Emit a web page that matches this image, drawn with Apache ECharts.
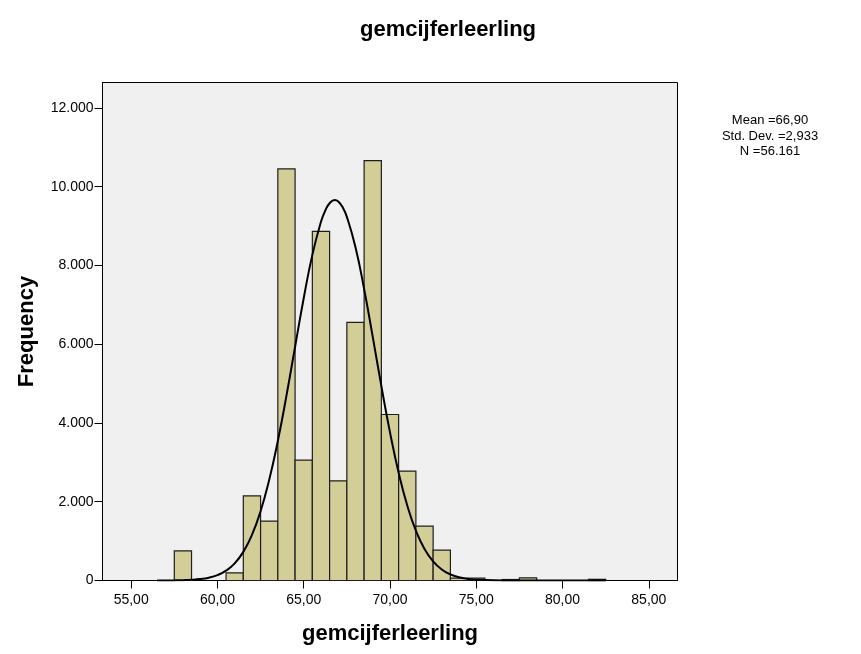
<!DOCTYPE html>
<html>
<head>
<meta charset="utf-8">
<script src="https://cdn.jsdelivr.net/npm/echarts@6/dist/echarts.min.js"></script>
<style>
html,body{margin:0;padding:0;background:#fff;}
#chart{width:861px;height:654px;}
</style>
</head>
<body>
<div id="chart"></div>
<script>
// Histogram bins (bin centers, width 1) and frequencies
var binCenters = [58, 61, 62, 63, 64, 65, 66, 67, 68, 69, 70, 71, 72, 73, 74, 75, 77, 78, 82];
var binCounts  = [750, 195, 2150, 1510, 10450, 3055, 8865, 2530, 6555, 10660, 4215, 2775, 1380, 770, 60, 60, 25, 65, 30];

// Normal curve as drawn in the picture (sampled points)
var curveX = [56.5, 57, 57.5, 58, 58.5, 59, 59.5, 60, 60.5, 61, 61.5, 62, 62.5, 63, 63.5, 64, 64.5, 65, 65.5, 66, 66.25, 66.5, 66.8, 67, 67.25, 67.5, 68, 68.5, 69, 69.5, 70, 70.5, 71, 71.5, 72, 72.5, 73, 73.5, 74, 74.5, 75, 76, 77, 78, 80, 82.5];
var curveY = [0, 1, 3, 8, 17, 36, 71, 137, 250, 436, 727, 1157, 1760, 2555, 3543, 4693, 5935, 7168, 8268, 9107, 9394, 9580, 9660, 9624, 9481, 9234, 8460, 7403, 6186, 4936, 3762, 2738, 1903, 1264, 801, 485, 280, 155, 82, 41, 20, 4, 1, 0, 0, 0];

// Tick labels
var xTicks = [55, 60, 65, 70, 75, 80, 85];
var yTicks = [0, 2000, 4000, 6000, 8000, 10000, 12000];

var titleText = 'gemcijferleerling';
var xName = 'gemcijferleerling';
var yName = 'Frequency';
var statsLines = ['Mean =66,90', 'Std. Dev. =2,933', 'N =56.161'];

var FONT = '"Liberation Sans", Arial, Helvetica, sans-serif';

var barData = binCenters.map(function (c, i) { return [c, binCounts[i]]; });
var curveData = curveX.map(function (x, i) { return [x, curveY[i]]; });

var chart = echarts.init(document.getElementById('chart'), null, { renderer: 'canvas' });

var option = {
  backgroundColor: '#ffffff',
  animation: false,
  title: {
    text: titleText,
    left: 443,
    top: 14,
    textAlign: 'center',
    textStyle: { fontFamily: FONT, fontWeight: 'bold', fontSize: 22, color: '#000' }
  },
  grid: {
    left: 102.5,
    top: 82.5,
    width: 575,
    height: 498,
    show: true,
    backgroundColor: '#F0F0F0',
    borderColor: '#000',
    borderWidth: 1,
    containLabel: false
  },
  xAxis: {
    type: 'value',
    min: 53.34,
    max: 86.66,
    name: xName,
    nameLocation: 'middle',
    nameGap: 42,
    nameTextStyle: { fontFamily: FONT, fontWeight: 'bold', fontSize: 22, color: '#000' },
    axisLine: { show: true, onZero: false, lineStyle: { color: '#000', width: 1 } },
    axisTick: { show: true, length: 8, customValues: xTicks, lineStyle: { color: '#000', width: 1 } },
    axisLabel: {
      customValues: xTicks,
      margin: 13,
      fontFamily: FONT, fontSize: 14, color: '#000',
      formatter: function (v) { return v.toFixed(2).replace('.', ','); }
    },
    splitLine: { show: false }
  },
  yAxis: {
    type: 'value',
    min: 0,
    max: 12645,
    name: yName,
    nameLocation: 'middle',
    nameGap: 65,
    nameTextStyle: { fontFamily: FONT, fontWeight: 'bold', fontSize: 22, color: '#000' },
    axisLine: { show: true, lineStyle: { color: '#000', width: 1 } },
    axisTick: { show: true, length: 8, customValues: yTicks, lineStyle: { color: '#000', width: 1 } },
    axisLabel: {
      customValues: yTicks,
      margin: 9,
      fontFamily: FONT, fontSize: 14, color: '#000',
      formatter: function (v) { return String(Math.round(v)).replace(/\B(?=(\d{3})+(?!\d))/g, '.'); }
    },
    splitLine: { show: false }
  },
  series: [
    {
      type: 'custom',
      name: 'bins',
      data: barData,
      encode: { x: 0, y: 1 },
      z: 2,
      renderItem: function (params, api) {
        var c = api.value(0), v = api.value(1);
        var p0 = api.coord([c - 0.5, v]);
        var p1 = api.coord([c + 0.5, 0]);
        return {
          type: 'rect',
          shape: { x: p0[0], y: p0[1], width: p1[0] - p0[0], height: p1[1] - p0[1] },
          style: { fill: '#D3CE97', stroke: '#1e1e1e', lineWidth: 1.2 }
        };
      }
    },
    {
      type: 'line',
      name: 'normal',
      data: curveData,
      smooth: 0.5,
      showSymbol: false,
      symbol: 'none',
      z: 3,
      lineStyle: { color: '#000', width: 2 }
    }
  ],
  graphic: [
    {
      type: 'text',
      x: 770,
      y: 113,
      style: {
        text: statsLines.join('\n'),
        textAlign: 'center',
        textVerticalAlign: 'top',
        font: '13px ' + FONT,
        lineHeight: 15.5,
        fill: '#000'
      }
    }
  ]
};

chart.setOption(option);
</script>
</body>
</html>
